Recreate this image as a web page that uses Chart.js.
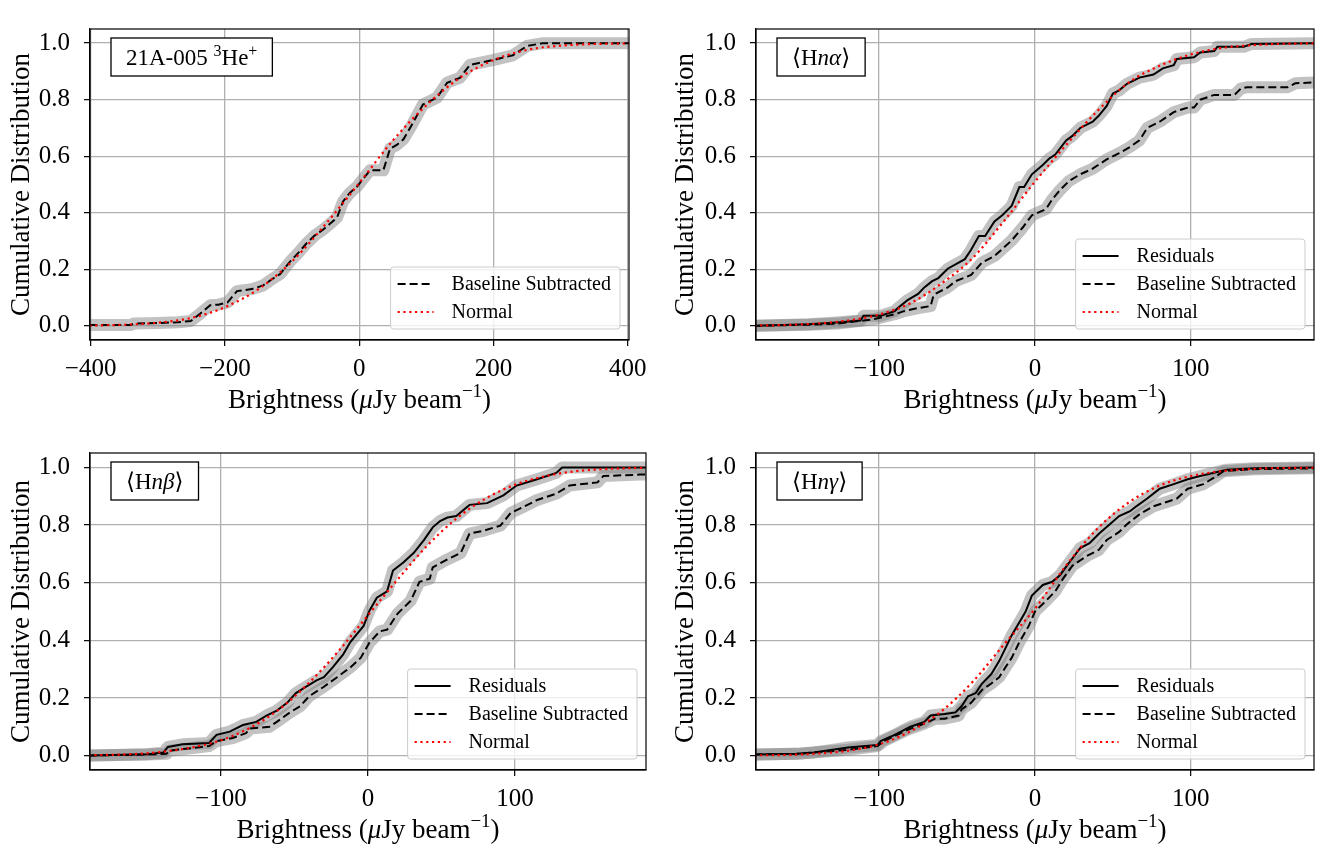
<!DOCTYPE html>
<html>
<head>
<meta charset="utf-8">
<script src="https://cdn.jsdelivr.net/npm/chart.js@4.4.0/dist/chart.umd.min.js"></script>
<style>
  body { margin: 0; background: #fff; }
  #wrap { position: relative; width: 1322px; height: 848px; }
  canvas { position: absolute; }
</style>
</head>
<body>
<div id="wrap">
  <canvas id="c1" width="661" height="424" style="left:0;top:0"></canvas>
  <canvas id="c2" width="661" height="424" style="left:661px;top:0"></canvas>
  <canvas id="c3" width="661" height="424" style="left:0;top:424px"></canvas>
  <canvas id="c4" width="661" height="424" style="left:661px;top:424px"></canvas>
</div>
<script>
// tick labels
const yTicks = [0, 0.2, 0.4, 0.6, 0.8, 1.0];
const xTicksHe3 = [-400, -200, 0, 200, 400];
const xTicksHn = [-100, 0, 100];

// 21A-005 3He+
const he3BaseX = [-402, -340, -336, -300, -270, -251, -237, -222, -210, -196, -182, -160, -143, -130, -118, -103, -90, -78, -66, -54, -44, -33, -24, -14, -3, 6, 16, 36, 46, 56, 66, 80, 95, 116, 131, 150, 165, 199, 229, 250, 274, 402];
const he3BaseY = [0.003, 0.003, 0.008, 0.01, 0.013, 0.017, 0.043, 0.073, 0.075, 0.083, 0.123, 0.13, 0.143, 0.165, 0.183, 0.227, 0.26, 0.293, 0.32, 0.34, 0.36, 0.383, 0.44, 0.47, 0.493, 0.52, 0.55, 0.55, 0.627, 0.64, 0.66, 0.717, 0.783, 0.807, 0.86, 0.877, 0.923, 0.94, 0.957, 0.99, 1.0, 1.0];
const he3NormX = [-402, -350, -300, -250, -200, -150, -100, -50, 0, 50, 100, 150, 200, 250, 300, 350, 402];
const he3NormY = [0.001, 0.004, 0.011, 0.028, 0.066, 0.13, 0.228, 0.36, 0.505, 0.655, 0.78, 0.877, 0.94, 0.976, 0.991, 0.997, 0.999];

// <Hn alpha>
const alphaResX = [-180, -145, -125, -112, -110, -99, -90, -88, -82, -75, -71, -66, -62, -56, -45, -41, -36, -32, -26, -21, -15, -10, -7, -2, 5, 9, 13, 20, 24, 29, 37, 41, 46, 50, 54, 59, 67, 76, 82, 89, 91, 102, 106, 115, 117, 134, 139, 180];
const alphaResY = [0.0, 0.006, 0.013, 0.019, 0.036, 0.036, 0.052, 0.063, 0.09, 0.113, 0.136, 0.158, 0.169, 0.202, 0.236, 0.269, 0.318, 0.318, 0.369, 0.391, 0.424, 0.491, 0.491, 0.536, 0.569, 0.591, 0.606, 0.656, 0.672, 0.7, 0.722, 0.744, 0.778, 0.822, 0.833, 0.856, 0.878, 0.889, 0.911, 0.922, 0.944, 0.95, 0.967, 0.972, 0.987, 0.987, 0.997, 1.0];
const alphaBaseX = [-180, -145, -127, -110, -103, -90, -84, -75, -67, -65, -56, -51, -41, -34, -26, -15, -8, -2, 7, 11, 16, 22, 29, 37, 46, 54, 61, 67, 72, 80, 89, 98, 102, 106, 115, 128, 132, 136, 162, 167, 180];
const alphaBaseY = [0.0, 0.004, 0.008, 0.019, 0.024, 0.041, 0.052, 0.063, 0.07, 0.11, 0.136, 0.158, 0.18, 0.224, 0.247, 0.302, 0.347, 0.391, 0.413, 0.447, 0.48, 0.513, 0.536, 0.556, 0.589, 0.611, 0.633, 0.656, 0.7, 0.722, 0.756, 0.772, 0.772, 0.8, 0.817, 0.817, 0.839, 0.844, 0.844, 0.858, 0.861];
const alphaNormX = [-180, -160, -140, -120, -100, -80, -60, -40, -20, 0, 20, 40, 60, 80, 100, 120, 140, 160, 180];
const alphaNormY = [0.001, 0.003, 0.008, 0.019, 0.04, 0.08, 0.15, 0.24, 0.37, 0.51, 0.64, 0.76, 0.86, 0.92, 0.96, 0.983, 0.993, 0.998, 0.999];

// <Hn beta>
const betaResX = [-190, -150, -139, -136, -126, -108, -103, -94, -85, -76, -69, -62, -55, -49, -42, -35, -30, -24, -17, -12, -3, 1, 6, 13, 17, 24, 31, 38, 44, 49, 54, 60, 69, 81, 92, 101, 115, 128, 132, 190];
const betaResY = [0.0, 0.005, 0.011, 0.03, 0.039, 0.044, 0.072, 0.083, 0.106, 0.117, 0.139, 0.156, 0.183, 0.217, 0.239, 0.261, 0.272, 0.306, 0.35, 0.394, 0.45, 0.503, 0.548, 0.57, 0.642, 0.67, 0.703, 0.748, 0.792, 0.814, 0.826, 0.831, 0.87, 0.876, 0.903, 0.937, 0.959, 0.981, 1.0, 1.0];
const betaBaseX = [-190, -150, -137, -135, -108, -103, -92, -83, -80, -67, -62, -53, -46, -40, -30, -21, -12, -5, 1, 8, 13, 20, 29, 35, 42, 44, 54, 63, 69, 79, 90, 97, 106, 115, 128, 137, 156, 160, 185, 190];
const betaBaseY = [0.0, 0.004, 0.006, 0.017, 0.033, 0.05, 0.061, 0.078, 0.094, 0.1, 0.117, 0.15, 0.172, 0.206, 0.239, 0.272, 0.306, 0.339, 0.392, 0.431, 0.437, 0.492, 0.537, 0.603, 0.614, 0.653, 0.681, 0.703, 0.77, 0.781, 0.798, 0.842, 0.864, 0.887, 0.909, 0.937, 0.948, 0.97, 0.975, 0.975];
const betaNormX = [-190, -160, -140, -120, -100, -80, -60, -40, -20, 0, 20, 40, 60, 80, 100, 120, 140, 160, 190];
const betaNormY = [0.001, 0.005, 0.013, 0.028, 0.053, 0.097, 0.162, 0.253, 0.363, 0.487, 0.61, 0.727, 0.822, 0.892, 0.94, 0.969, 0.986, 0.994, 0.999];

// <Hn gamma>
const gammaResX = [-180, -153, -142, -131, -120, -101, -99, -92, -86, -80, -71, -67, -58, -51, -47, -43, -38, -34, -28, -23, -19, -15, -6, -2, 5, 11, 16, 22, 29, 35, 41, 48, 54, 61, 65, 72, 80, 89, 98, 106, 119, 123, 141, 180];
const gammaResY = [0.004, 0.006, 0.011, 0.019, 0.028, 0.037, 0.05, 0.067, 0.083, 0.1, 0.117, 0.139, 0.144, 0.15, 0.172, 0.206, 0.217, 0.25, 0.283, 0.328, 0.372, 0.417, 0.5, 0.555, 0.592, 0.603, 0.626, 0.67, 0.72, 0.737, 0.77, 0.803, 0.831, 0.848, 0.865, 0.892, 0.926, 0.942, 0.959, 0.97, 0.987, 0.992, 0.997, 1.0];
const gammaBaseX = [-180, -153, -120, -101, -97, -82, -71, -64, -58, -49, -47, -41, -34, -28, -23, -19, -15, -10, -4, 0, 7, 13, 18, 24, 33, 41, 46, 54, 59, 67, 76, 85, 91, 98, 108, 115, 121, 141, 180];
const gammaBaseY = [0.004, 0.006, 0.02, 0.033, 0.05, 0.089, 0.111, 0.128, 0.128, 0.139, 0.161, 0.183, 0.228, 0.25, 0.272, 0.306, 0.339, 0.394, 0.45, 0.5, 0.537, 0.57, 0.614, 0.659, 0.692, 0.714, 0.748, 0.776, 0.803, 0.837, 0.865, 0.881, 0.892, 0.926, 0.942, 0.965, 0.987, 0.994, 0.997];
const gammaNormX = [-180, -160, -140, -120, -100, -80, -60, -40, -20, 0, 20, 40, 60, 80, 100, 120, 140, 160, 180];
const gammaNormY = [0.001, 0.002, 0.007, 0.017, 0.039, 0.084, 0.154, 0.256, 0.385, 0.51, 0.66, 0.787, 0.878, 0.937, 0.97, 0.987, 0.995, 0.998, 0.999];

const FONT = '"Liberation Serif", "DejaVu Serif", serif';
const xTitle = [{t: 'Brightness ('}, {t: '\u03bc', it: true}, {t: 'Jy beam'}, {t: '\u22121', sup: true}, {t: ')'}];

let segFont = (s, size) => (s.it ? 'italic ' : '') + Math.round(s.sup ? size * 0.7 : size) + 'px ' + FONT;

let richWidth = (ctx, segs, size) => {
    let w = 0;
    segs.forEach(s => { ctx.font = segFont(s, size); w += ctx.measureText(s.t).width; });
    return w;
}

let drawRich = (ctx, segs, x, baseY, size) => {
    ctx.textAlign = 'left';
    ctx.textBaseline = 'alphabetic';
    ctx.fillStyle = '#000';
    segs.forEach(s => {
        ctx.font = segFont(s, size);
        ctx.fillText(s.t, x, baseY - (s.sup ? size * 0.4 : 0));
        x += ctx.measureText(s.t).width;
    });
}

// frame, x title, tag box and legend box
const decor = {
    id: 'decor',
    afterDraw(chart, args, o) {
        const ctx = chart.ctx, a = chart.chartArea;
        ctx.save();
        ctx.strokeStyle = '#000';
        ctx.lineWidth = 1.2;
        ctx.strokeRect(a.left, a.top, a.right - a.left, a.bottom - a.top);

        let w = richWidth(ctx, xTitle, 27);
        drawRich(ctx, xTitle, (a.left + a.right) / 2 - w / 2, a.bottom + 68, 27);

        // tag
        const tw = richWidth(ctx, o.tag, 23);
        const bx = a.left + 21, by = a.top + 9;
        ctx.fillStyle = '#fff';
        ctx.fillRect(bx, by, tw + 30, 38);
        ctx.lineWidth = 1.3;
        ctx.strokeRect(bx, by, tw + 30, 38);
        drawRich(ctx, o.tag, bx + 15, by + 27, 23);

        // legend
        const items = chart.data.datasets.filter(d => d.legendLabel);
        ctx.font = '20px ' + FONT;
        let lw = 0;
        items.forEach(d => { lw = Math.max(lw, ctx.measureText(d.legendLabel).width); });
        const bw = 61 + lw + 9, bh = 34 + (items.length - 1) * 28;
        const lx = a.right - 9 - bw, ly = a.bottom - 11 - bh;
        ctx.beginPath();
        ctx.roundRect(lx, ly, bw, bh, 3);
        ctx.fillStyle = 'rgba(255,255,255,0.8)';
        ctx.fill();
        ctx.lineWidth = 1;
        ctx.strokeStyle = '#cccccc';
        ctx.stroke();
        items.forEach((d, i) => {
            const cy = ly + 17 + i * 28;
            ctx.beginPath();
            ctx.setLineDash(d.borderDash || []);
            ctx.strokeStyle = d.borderColor;
            ctx.lineWidth = d.borderWidth;
            ctx.moveTo(lx + 7, cy);
            ctx.lineTo(lx + 43, cy);
            ctx.stroke();
            ctx.setLineDash([]);
            ctx.fillStyle = '#000';
            ctx.font = '20px ' + FONT;
            ctx.textAlign = 'left';
            ctx.textBaseline = 'middle';
            ctx.fillText(d.legendLabel, lx + 61, cy + 1);
        });
        ctx.restore();
    }
};

let pts = (xs, ys) => xs.map((x, i) => ({x: x, y: ys[i]}));

let band = (xs, ys) => ({
    data: pts(xs, ys), borderColor: 'rgba(128,128,128,0.48)', borderJoinStyle: 'round',
    borderWidth: 12, pointRadius: 0, order: 10
});

let makePanel = (id, p) => {
    const datasets = [];
    if (p.resX) {
        datasets.push(band(p.resX, p.resY));
        datasets.push({legendLabel: 'Residuals', data: pts(p.resX, p.resY),
            borderColor: '#000', borderWidth: 2, pointRadius: 0, order: 2});
    }
    datasets.push(band(p.baseX, p.baseY));
    datasets.push({legendLabel: 'Baseline Subtracted', data: pts(p.baseX, p.baseY),
        borderColor: '#000', borderWidth: 2, borderDash: [8, 4], pointRadius: 0, order: 1});
    datasets.push({legendLabel: 'Normal', data: pts(p.normX, p.normY), cubicInterpolationMode: 'monotone',
        borderColor: '#ff0000', borderWidth: 2.2, borderDash: [2.2, 3.6], pointRadius: 0, order: 0});

    new Chart(document.getElementById(id).getContext('2d'), {
        type: 'line',
        data: {datasets: datasets},
        plugins: [decor],
        options: {
            responsive: false,
            animation: false,
            layout: {padding: {left: 0, right: p.right, top: p.top, bottom: 0}},
            plugins: {legend: {display: false}, tooltip: {enabled: false}, decor: {tag: p.tag}},
            scales: {
                x: {
                    type: 'linear', min: p.xMin, max: p.xMax,
                    afterBuildTicks: s => { s.ticks = p.xTicks.map(v => ({value: v})); },
                    afterFit: s => { s.height = p.bottom; },
                    grid: {color: '#b0b0b0', lineWidth: 1.3, tickColor: '#000', tickLength: 6, tickWidth: 1.2},
                    border: {display: true, color: '#000', width: 1.2},
                    ticks: {autoSkip: false, maxRotation: 0, padding: 8, color: '#000',
                        font: {family: FONT, size: 25},
                        callback: v => v < 0 ? '\u2212' + (-v) : String(v)}
                },
                y: {
                    type: 'linear', min: -0.05, max: 1.05,
                    afterBuildTicks: s => { s.ticks = yTicks.map(v => ({value: v})); },
                    afterFit: s => { s.width = p.left; },
                    grid: {color: '#b0b0b0', lineWidth: 1.3, tickColor: '#000', tickLength: 6, tickWidth: 1.2},
                    border: {display: true, color: '#000', width: 1.2},
                    ticks: {padding: 14, color: '#000', font: {family: FONT, size: 25},
                        callback: v => v.toFixed(1)},
                    title: {display: true, text: 'Cumulative Distribution', color: '#000',
                        font: {family: FONT, size: 27}, padding: {top: p.titlePad, bottom: 0}}
                }
            }
        }
    });
}

makePanel('c1', {
    xMin: -401, xMax: 402, xTicks: xTicksHe3, left: 90, right: 32, top: 9, bottom: 84, titlePad: 6,
    tag: [{t: '21A-005 '}, {t: '3', sup: true}, {t: 'He'}, {t: '+', sup: true}],
    baseX: he3BaseX, baseY: he3BaseY, normX: he3NormX, normY: he3NormY
});
makePanel('c2', {
    xMin: -179, xMax: 179, xTicks: xTicksHn, left: 95, right: 8, top: 9, bottom: 84, titlePad: 9,
    tag: [{t: '\u27e8H'}, {t: 'n\u03b1', it: true}, {t: '\u27e9'}],
    resX: alphaResX, resY: alphaResY, baseX: alphaBaseX, baseY: alphaBaseY, normX: alphaNormX, normY: alphaNormY
});
makePanel('c3', {
    xMin: -189, xMax: 189, xTicks: xTicksHn, left: 90, right: 15, top: 15, bottom: 78, titlePad: 6,
    tag: [{t: '\u27e8H'}, {t: 'n\u03b2', it: true}, {t: '\u27e9'}],
    resX: betaResX, resY: betaResY, baseX: betaBaseX, baseY: betaBaseY, normX: betaNormX, normY: betaNormY
});
makePanel('c4', {
    xMin: -179, xMax: 179, xTicks: xTicksHn, left: 95, right: 8, top: 15, bottom: 78, titlePad: 9,
    tag: [{t: '\u27e8H'}, {t: 'n\u03b3', it: true}, {t: '\u27e9'}],
    resX: gammaResX, resY: gammaResY, baseX: gammaBaseX, baseY: gammaBaseY, normX: gammaNormX, normY: gammaNormY
});
</script>
</body>
</html>
